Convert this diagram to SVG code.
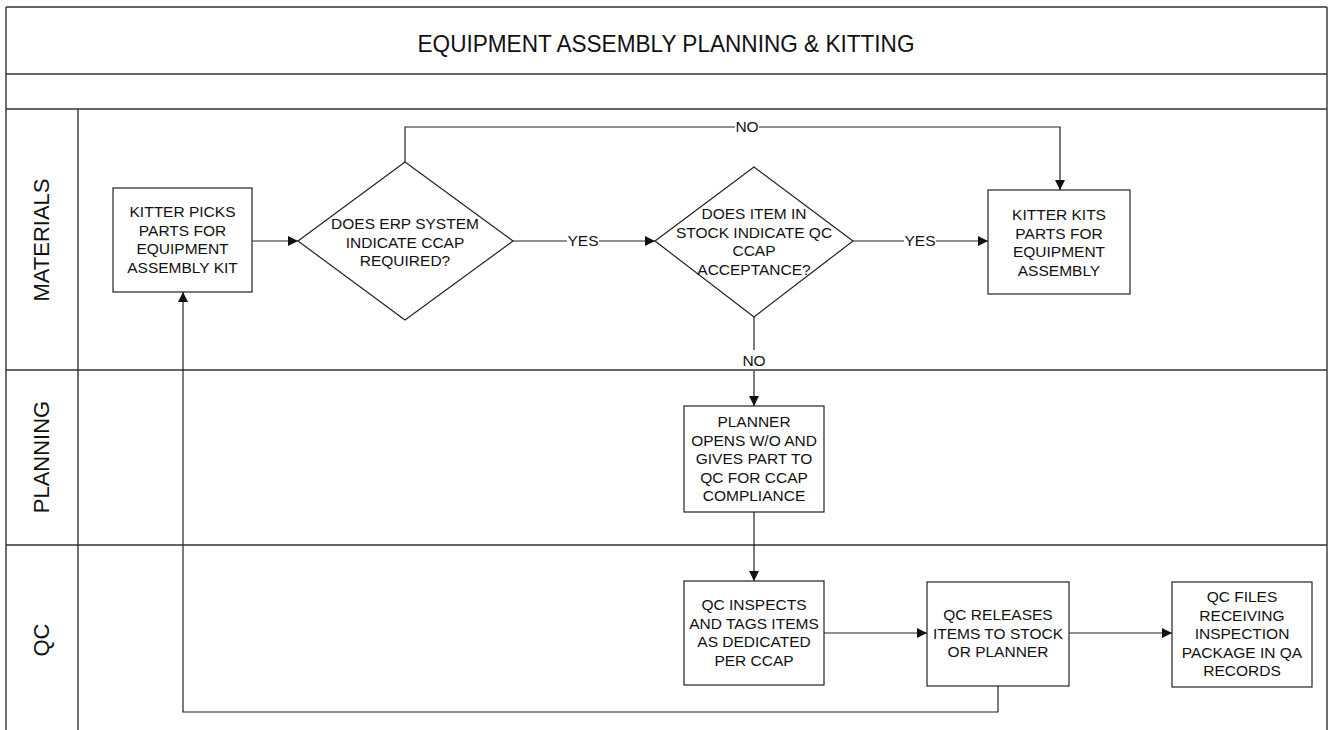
<svg xmlns="http://www.w3.org/2000/svg" width="1329" height="730" viewBox="0 0 1329 730">
<defs>
<marker id="ah" viewBox="0 0 10 10" refX="10" refY="5" markerWidth="11" markerHeight="10" markerUnits="userSpaceOnUse" orient="auto">
<path d="M0,0 L10,5 L0,10 z" fill="#111"/>
</marker>
<style>
.frame{stroke:#333;stroke-width:1.4;fill:none}
.node{fill:#fff;stroke:#222;stroke-width:1.2}
.t{font-family:"Liberation Sans",Arial,sans-serif;font-size:15.5px;fill:#111;text-anchor:middle}
.lane{font-family:"Liberation Sans",Arial,sans-serif;font-size:22px;fill:#111;text-anchor:middle}
.title{font-family:"Liberation Sans",Arial,sans-serif;font-size:24px;fill:#111;text-anchor:middle}
.c{stroke:#222;stroke-width:1.2;fill:none}
.ca{stroke:#222;stroke-width:1.2;fill:none;marker-end:url(#ah)}
</style>
</defs>
<rect width="1329" height="730" fill="#fff"/>
<g id="frame">
<line class="frame" x1="6" y1="7" x2="1327" y2="7"/>
<line class="frame" x1="6" y1="74" x2="1327" y2="74"/>
<line class="frame" x1="6" y1="109" x2="1327" y2="109"/>
<line class="frame" x1="6" y1="370" x2="1327" y2="370"/>
<line class="frame" x1="6" y1="545" x2="1327" y2="545"/>
<line class="frame" x1="6" y1="7" x2="6" y2="730"/>
<line class="frame" x1="1327" y1="7" x2="1327" y2="730"/>
<line class="frame" x1="78" y1="109" x2="78" y2="730"/>
<text class="title" x="666" y="52" textLength="497" lengthAdjust="spacingAndGlyphs">EQUIPMENT ASSEMBLY PLANNING &amp; KITTING</text>
<text class="lane" transform="translate(49,240) rotate(-90)">MATERIALS</text>
<text class="lane" transform="translate(49,457) rotate(-90)">PLANNING</text>
<text class="lane" transform="translate(49,640) rotate(-90)">QC</text>
</g>
<g id="connectors">
<line class="ca" x1="252" y1="241" x2="298" y2="241"/>
<polyline class="c" points="513,241 567,241"/>
<line class="ca" x1="599" y1="241" x2="655" y2="241"/>
<text class="t" x="583" y="246">YES</text>
<polyline class="c" points="853,241 904,241"/>
<line class="ca" x1="936" y1="241" x2="988" y2="241"/>
<text class="t" x="920" y="246">YES</text>
<polyline class="c" points="405,162 405,127 735,127"/>
<polyline class="ca" points="759,127 1060,127 1060,190"/>
<text class="t" x="747" y="132">NO</text>
<polyline class="c" points="754,317 754,350"/>
<polyline class="ca" points="754,371 754,406"/>
<text class="t" x="754" y="366">NO</text>
<line class="ca" x1="754" y1="512" x2="754" y2="581"/>
<line class="ca" x1="824" y1="633" x2="927" y2="633"/>
<line class="ca" x1="1069" y1="633" x2="1172" y2="633"/>
<polyline class="ca" points="998,686 998,712 183,712 183,292"/>
</g>
<g id="n1">
<rect class="node" x="113" y="188" width="139" height="104"/>
<text class="t" x="182.5" y="217"><tspan x="182.5">KITTER PICKS</tspan><tspan x="182.5" dy="18.5">PARTS FOR</tspan><tspan x="182.5" dy="18.5">EQUIPMENT</tspan><tspan x="182.5" dy="18.5">ASSEMBLY KIT</tspan></text>
</g>
<g id="d1">
<polygon class="node" points="298,241 405,162 513,241 405,320"/>
<text class="t" x="405" y="229"><tspan x="405">DOES ERP SYSTEM</tspan><tspan x="405" dy="18.5">INDICATE CCAP</tspan><tspan x="405" dy="18.5">REQUIRED?</tspan></text>
</g>
<g id="d2">
<polygon class="node" points="655,241 754,167 853,241 754,317"/>
<text class="t" x="754" y="219"><tspan x="754">DOES ITEM IN</tspan><tspan x="754" dy="18.5">STOCK INDICATE QC</tspan><tspan x="754" dy="18.5">CCAP</tspan><tspan x="754" dy="18.5">ACCEPTANCE?</tspan></text>
</g>
<g id="n2">
<rect class="node" x="988" y="190" width="142" height="104"/>
<text class="t" x="1059" y="220"><tspan x="1059">KITTER KITS</tspan><tspan x="1059" dy="18.5">PARTS FOR</tspan><tspan x="1059" dy="18.5">EQUIPMENT</tspan><tspan x="1059" dy="18.5">ASSEMBLY</tspan></text>
</g>
<g id="n3">
<rect class="node" x="684" y="406" width="140" height="106"/>
<text class="t" x="754" y="427"><tspan x="754">PLANNER</tspan><tspan x="754" dy="18.5">OPENS W/O AND</tspan><tspan x="754" dy="18.5">GIVES PART TO</tspan><tspan x="754" dy="18.5">QC FOR CCAP</tspan><tspan x="754" dy="18.5">COMPLIANCE</tspan></text>
</g>
<g id="n4">
<rect class="node" x="684" y="581" width="140" height="104"/>
<text class="t" x="754" y="610"><tspan x="754">QC INSPECTS</tspan><tspan x="754" dy="18.5">AND TAGS ITEMS</tspan><tspan x="754" dy="18.5">AS DEDICATED</tspan><tspan x="754" dy="18.5">PER CCAP</tspan></text>
</g>
<g id="n5">
<rect class="node" x="927" y="582" width="142" height="104"/>
<text class="t" x="998" y="620"><tspan x="998">QC RELEASES</tspan><tspan x="998" dy="18.5">ITEMS TO STOCK</tspan><tspan x="998" dy="18.5">OR PLANNER</tspan></text>
</g>
<g id="n6">
<rect class="node" x="1172" y="582" width="140" height="105"/>
<text class="t" x="1242" y="602"><tspan x="1242">QC FILES</tspan><tspan x="1242" dy="18.5">RECEIVING</tspan><tspan x="1242" dy="18.5">INSPECTION</tspan><tspan x="1242" dy="18.5">PACKAGE IN QA</tspan><tspan x="1242" dy="18.5">RECORDS</tspan></text>
</g>
</svg>
